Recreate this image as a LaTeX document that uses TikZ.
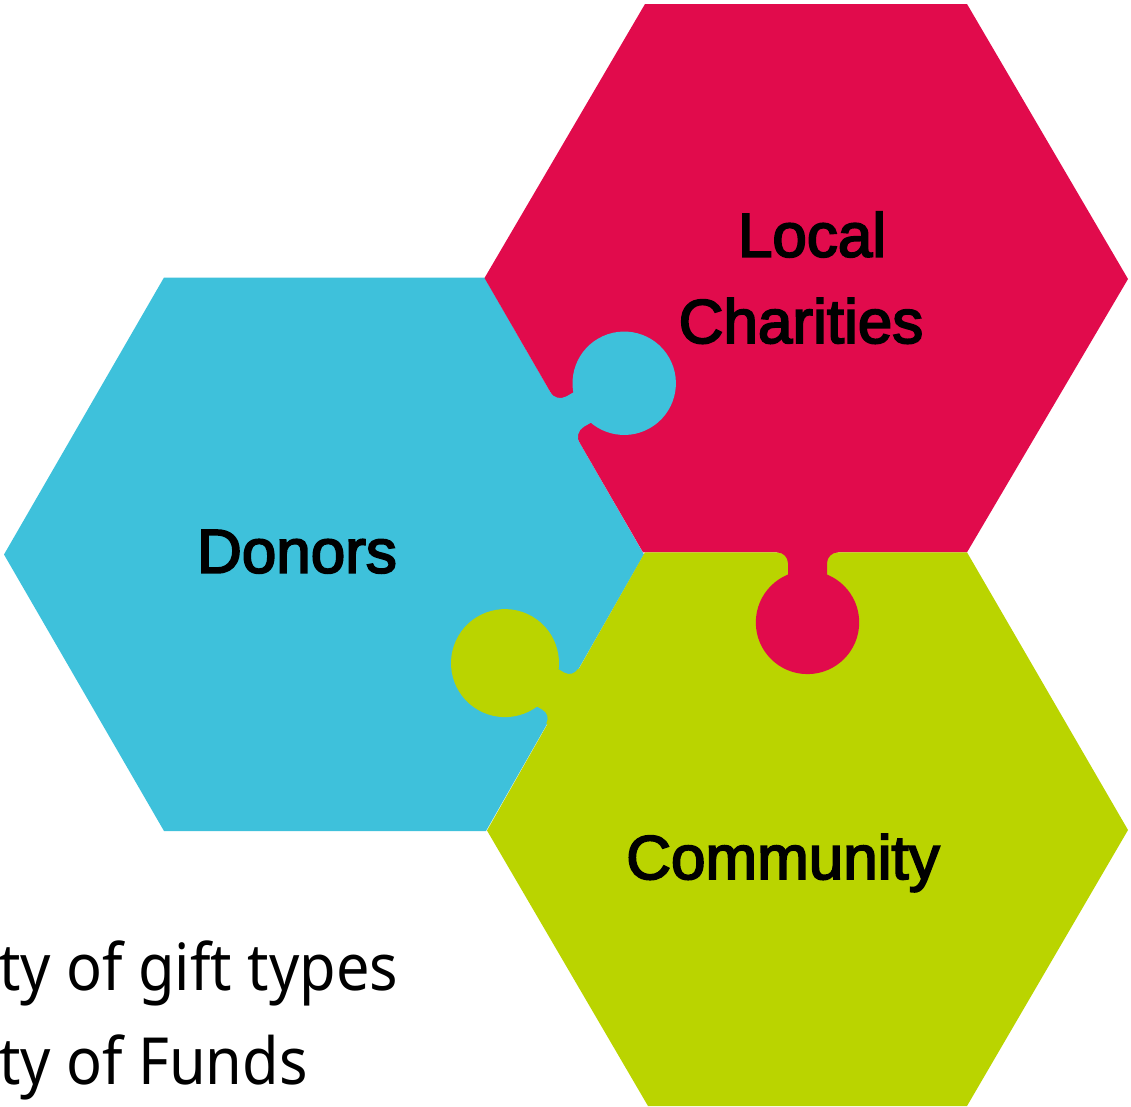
\documentclass[tikz,border=0pt]{standalone}
\usepackage{fontspec}
\newfontfamily\labfont[FakeBold=3]{Liberation Sans}
\newfontfamily\notefont[FakeStretch=0.915]{Noto Sans}
\definecolor{hexblue}{RGB}{62,193,219}
\definecolor{hexred}{RGB}{225,11,76}
\definecolor{hexgreen}{RGB}{186,212,0}
% #1 fx, #2 fy, #3 edge angle, #4 normal angle (pixel frame, y down), #5 d, #6 R, #7 half neck, #8 fillet r, #9 colour
\newcommand{\puzzletab}[9]{%
  \begin{scope}[shift={(#1,#2)}]
    \begin{scope}[x={({cos(#3)*1pt},{-sin(#3)*1pt})}, y={({cos(#4)*1pt},{-sin(#4)*1pt})}]
      \fill[#9] ({-#7-#8},-2) -- ({-#7-#8},0)
        arc[start angle=-90, end angle=0, radius=#8]
        -- ({-#7},#5) -- (#7,#5) -- (#7,#8)
        arc[start angle=180, end angle=270, radius=#8]
        -- ({#7+#8},-2) -- cycle;
      \fill[#9] (0,#5) circle[radius=#6];
    \end{scope}
  \end{scope}}
\tikzset{
  lab/.style={font=\labfont\fontsize{62}{74}\selectfont, text=black, inner sep=0pt, anchor=base},
  note/.style={font=\notefont\fontsize{65}{78}\selectfont, text=black, inner sep=0pt, anchor=base west}
}
\begin{document}
\begin{tikzpicture}[x=1pt,y=-1pt]
\useasboundingbox (0,0) rectangle (1131,1106);
% hexagons
\fill[hexblue] (4,554.5) -- (164,277.5) -- (484.5,277.5) -- (644,554.5) -- (486,831) -- (164,831) -- cycle;
\fill[hexred] (484.5,278) -- (645,4) -- (967,4) -- (1128,279) -- (967,552.3) -- (643,552.3) -- cycle;
\fill[hexgreen] (487,830.5) -- (645,552.3) -- (967,552.3) -- (1128,830) -- (967,1106) -- (648,1106) -- cycle;
% puzzle tabs
\puzzletab{564.7}{417.6}{60}{-30}{68.7}{51.7}{17.5}{12}{hexblue}
\puzzletab{562.1}{696.2}{120.1}{210.1}{66}{54}{21.5}{10}{hexgreen}
\puzzletab{807.5}{552.3}{0}{90}{70.1}{51.7}{19.5}{11}{hexred}
% labels
\node[lab] (local) at (812,256.7) {Local};
\node[lab] (charities) at (801,343) {Charities};
\node[lab] (donors) at (297,572.7) {Donors};
\node[lab] (community) at (783,879) {Community};
\node[note] (gifts) at (-1,990.7) {ty of gift types};
\node[note] (funds) at (-1,1084) {ty of Funds};
\end{tikzpicture}
\end{document}
